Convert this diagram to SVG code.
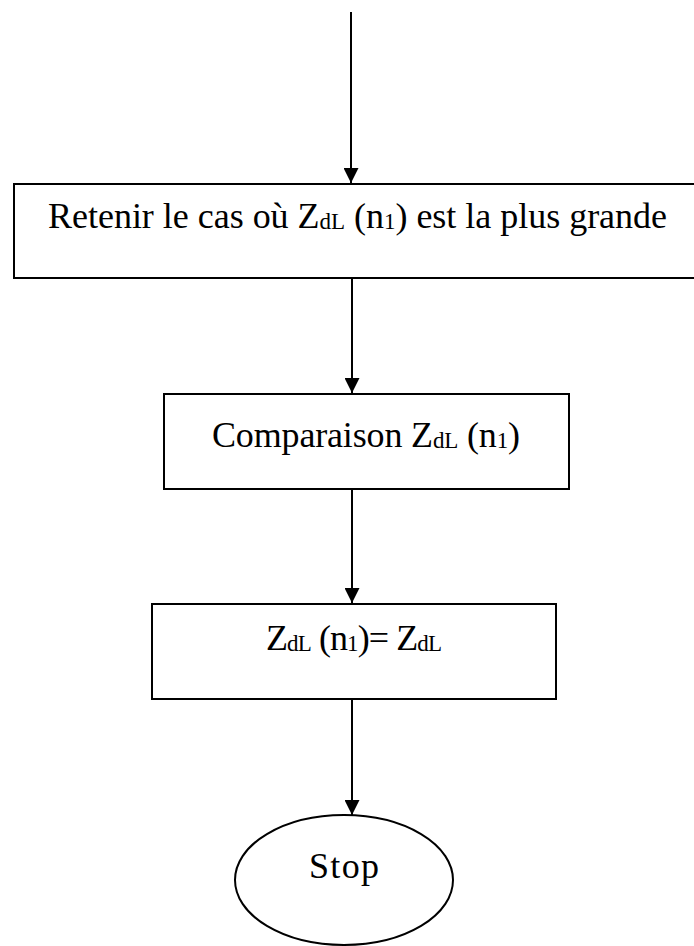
<svg xmlns="http://www.w3.org/2000/svg" width="694" height="946" viewBox="0 0 694 946">
<style>
.box{fill:#fff;stroke:#000;stroke-width:2}
.ln{stroke:#000;stroke-width:2;fill:none}
.t{font-family:"Liberation Serif","Times New Roman",serif;font-size:36px;fill:#000}
.s{font-size:23px}
</style>
<defs>
<marker id="ah" viewBox="0 0 15 15" refX="15" refY="7.5" markerWidth="15" markerHeight="15" markerUnits="userSpaceOnUse" orient="auto">
<path d="M0,0 L15,7.5 L0,15 Z" fill="#000"/>
</marker>
</defs>
<g id="connectors">
<line class="ln" x1="351" y1="12" x2="351" y2="183" marker-end="url(#ah)"/>
<line class="ln" x1="352" y1="279" x2="352" y2="393" marker-end="url(#ah)"/>
<line class="ln" x1="352" y1="489" x2="352" y2="603" marker-end="url(#ah)"/>
<line class="ln" x1="352" y1="699" x2="352" y2="815" marker-end="url(#ah)"/>
</g>
<g id="retenir">
<rect class="box" x="14" y="184" width="690" height="94"/>
<text class="t" x="48" y="228" textLength="619">Retenir le cas où Z<tspan class="s" dy="1">dL</tspan><tspan dy="-1"> (n</tspan><tspan class="s" dy="1">1</tspan><tspan dy="-1">) est la plus grande</tspan></text>
</g>
<g id="comparaison">
<rect class="box" x="164" y="394" width="405" height="95"/>
<text class="t" x="212" y="447" textLength="308">Comparaison Z<tspan class="s" dy="1">dL</tspan><tspan dy="-1"> (n</tspan><tspan class="s" dy="1">1</tspan><tspan dy="-1">)</tspan></text>
</g>
<g id="assign">
<rect class="box" x="152" y="604" width="404" height="95"/>
<text class="t" x="266" y="650" textLength="176">Z<tspan class="s" dy="1">dL</tspan><tspan dy="-1"> (n</tspan><tspan class="s" dy="1">1</tspan><tspan dy="-1">)= Z</tspan><tspan class="s" dy="1">dL</tspan></text>
</g>
<g id="stop">
<ellipse class="box" cx="344" cy="880" rx="109" ry="65"/>
<text class="t" x="309" y="878" textLength="70">Stop</text>
</g>
</svg>
